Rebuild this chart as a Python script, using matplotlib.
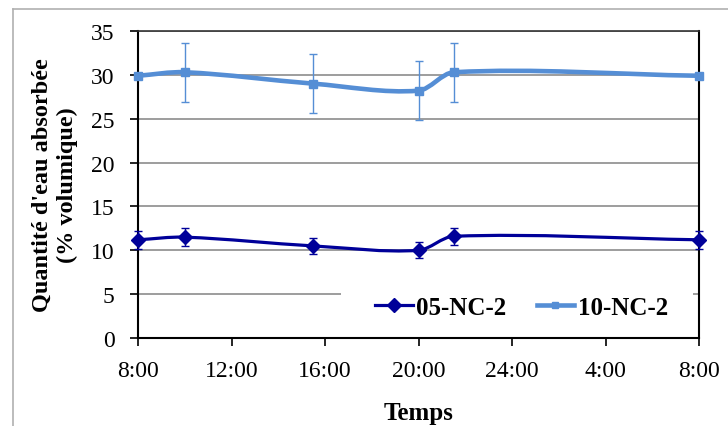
"""Water uptake of 05-NC-2 and 10-NC-2 over one day."""

import numpy as np
import matplotlib
matplotlib.use("Agg")
import matplotlib.pyplot as plt
from matplotlib.lines import Line2D
from matplotlib.path import Path
from matplotlib.patches import PathPatch, Rectangle

plt.rcParams["font.family"] = ["Liberation Serif", "DejaVu Serif"]

# time of measurement in hours (8:00 -> 32 = 8:00 next day)
hours = [8, 10, 15.5, 20, 21.5, 32]
tick_hours = [8, 12, 16, 20, 24, 28, 32]
tick_labels = ["8:00", "12:00", "16:00", "20:00", "24:00", "4:00", "8:00"]

nc05 = [11.2, 11.5, 10.5, 10.0, 11.6, 11.2]
nc05_err = [1.0, 1.0, 0.95, 0.9, 0.95, 1.0]
nc10 = [29.9, 30.3, 29.0, 28.2, 30.3, 29.9]
nc10_err = [0.0, 3.35, 3.4, 3.35, 3.35, 0.0]

NAVY = "#000099"
BLUE = "#558ED5"
FONT_SIZE = 17
OUTPUT_FILENAME = "out.png"


def smooth_path(x, y):
    # smoothed line as cubic hermite segments (bezier form), y follows x
    x = np.asarray(x, float)
    y = np.asarray(y, float)
    n = len(x)
    m = np.empty(n)
    m[0] = (y[1] - y[0]) / (x[1] - x[0])
    m[-1] = (y[-1] - y[-2]) / (x[-1] - x[-2])
    m[1:-1] = (y[2:] - y[:-2]) / (x[2:] - x[:-2])
    verts = [(x[0], y[0])]
    codes = [Path.MOVETO]
    for i in range(n - 1):
        h = (x[i + 1] - x[i]) / 3
        verts += [(x[i] + h, y[i] + m[i] * h),
                  (x[i + 1] - h, y[i + 1] - m[i + 1] * h),
                  (x[i + 1], y[i + 1])]
        codes += [Path.CURVE4] * 3
    return Path(verts, codes)


fig = plt.figure(figsize=(7.28, 4.27), dpi=100)
ax = fig.add_axes([0.1896, 0.206, 0.7706, 0.719])

# outer chart border (light gray)
fig.add_artist(Line2D([13 / 728, 13 / 728], [0, 1 - 10 / 427], transform=fig.transFigure,
                      color="#b0b0b0", lw=1.2))
fig.add_artist(Line2D([13 / 728, 1], [1 - 10 / 427, 1 - 10 / 427], transform=fig.transFigure,
                      color="#b0b0b0", lw=1.2))

for ys, err, color, lw, marker, ms in [(nc05, nc05_err, NAVY, 2.3, "D", 7),
                                         (nc10, nc10_err, BLUE, 3.3, "s", 6)]:
    ax.add_patch(PathPatch(smooth_path(hours, ys), fill=False, edgecolor=color, lw=lw,
                           capstyle="round", joinstyle="round", zorder=3))
    ax.errorbar(hours, ys, yerr=err, fmt=marker, color=color, ms=ms, elinewidth=1.0,
                capsize=3, capthick=1.0, zorder=4, clip_on=False)

ax.set_xlim(8, 32)
ax.set_ylim(0, 35)
ax.set_yticks(range(0, 36, 5))
ax.set_xticks(tick_hours)
ax.set_xticklabels(tick_labels)
ax.tick_params(axis="both", labelsize=FONT_SIZE, direction="out", length=6, width=1.2,
               color="black")
ax.tick_params(axis="x", pad=10)
ax.tick_params(axis="y", pad=11)
ax.yaxis.grid(True, color="#8c8c8c", lw=1.2)
ax.set_axisbelow(True)
for side in ["left", "bottom", "right"]:
    ax.spines[side].set_color("black")
    ax.spines[side].set_linewidth(1.5)
ax.spines["top"].set_color("#333333")
ax.spines["top"].set_linewidth(1.2)

ax.set_xlabel("Temps", fontsize=18, fontweight="bold", labelpad=14)
ax.set_ylabel("Quantité d'eau absorbée\n(% volumique)", fontsize=17.5, fontweight="bold",
              labelpad=9, linespacing=1.25)

# white legend area, hides the gridline behind it
ax.add_patch(Rectangle((0.362, 0.03), 0.627, 0.19, transform=ax.transAxes,
                       facecolor="white", edgecolor="none", zorder=1))

handles = [Line2D([], [], color=NAVY, lw=2.3, marker="D", ms=7),
           Line2D([], [], color=BLUE, lw=3.3, marker="s", ms=4.5)]
leg = ax.legend(handles, ["05-NC-2", "10-NC-2"], loc="center left", ncol=2,
                bbox_to_anchor=(0.4225, 0.101), frameon=False,
                prop={"size": 18, "weight": "bold"}, handlelength=1.5, handletextpad=0.15,
                columnspacing=1.2, borderpad=0, borderaxespad=0)
leg.set_zorder(5)

fig.savefig(OUTPUT_FILENAME, dpi=100)
